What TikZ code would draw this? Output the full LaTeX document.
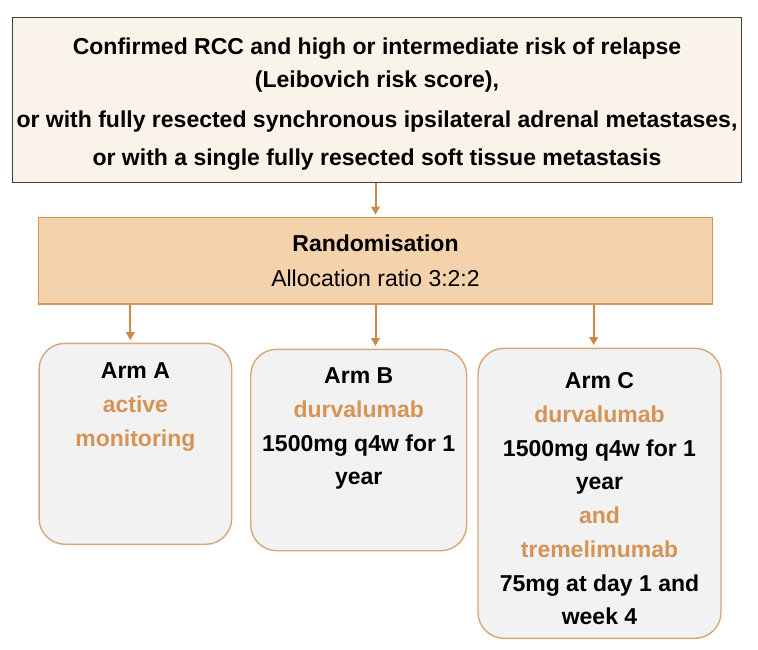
\documentclass[tikz,border=0pt]{standalone}
\usepackage{fontspec}
\setmainfont{Liberation Sans}
\usetikzlibrary{positioning,arrows.meta}

\definecolor{critfill}{RGB}{250,243,233}
\definecolor{critline}{RGB}{64,64,64}
\definecolor{randfill}{RGB}{244,210,172}
\definecolor{randline}{RGB}{217,150,88}
\definecolor{armfill}{RGB}{242,242,242}
\definecolor{armline}{RGB}{214,168,118}
\definecolor{drugtext}{RGB}{213,148,86}
\definecolor{flowcol}{RGB}{205,135,70}

\newcommand{\drug}[1]{\textcolor{drugtext}{#1}}

\tikzset{
  critbox/.style={draw=critline, fill=critfill, line width=1.4pt, inner sep=0pt,
    align=center, font=\bfseries\fontsize{23}{32.7}\selectfont},
  randbox/.style={draw=randline, fill=randfill, line width=1.3pt, inner sep=0pt,
    align=center, font=\fontsize{23}{34.4}\selectfont},
  armbox/.style={draw=armline, fill=armfill, line width=1.4pt, rounded corners=26pt, inner sep=0pt},
  armtext/.style={align=center, inner sep=0pt, font=\bfseries\fontsize{23}{33.7}\selectfont},
  flow/.style={draw=flowcol, line width=2pt, shorten >=2.5pt,
    -{Triangle[length=8pt,width=8.5pt]}, fill=flowcol}
}

\begin{document}
\begin{tikzpicture}[x=1pt, y=-1pt, node distance=20pt]
  \useasboundingbox (0,0) rectangle (758,650);

  % boxes
  \node[critbox, minimum width=729.4pt, minimum height=165pt] (crit) at (377,100.2)
    {\rule{0pt}{25pt}Confirmed RCC and high or intermediate risk of relapse\\
     (Leibovich risk score),\\[8pt]
     or with fully resected synchronous ipsilateral adrenal metastases,\\[5.3pt]
     or with a single fully resected soft tissue metastasis};
  \node[randbox, minimum width=674.4pt, minimum height=86.3pt] (rand) at (375.5,260.9)
    {\textbf{Randomisation}\\Allocation ratio 3:2:2};

  \node[armbox, minimum width=192.7pt, minimum height=201pt] (armA) at (135.4,443.8) {};
  \node[armbox, minimum width=216pt, minimum height=201.4pt] (armB) at (358.7,450) {};
  \node[armbox, minimum width=243pt, minimum height=290pt] (armC) at (599.5,493.3) {};

  % arm texts
  \node[armtext, below=20pt of armA.north] (txtA)
    {Arm A\\\drug{active}\\\drug{monitoring}};
  \node[armtext, below=19pt of armB.north] (txtB)
    {Arm B\\\drug{durvalumab}\\1500mg q4w for 1\\year};
  \node[armtext, below=25pt of armC.north] (txtC)
    {Arm C\\\drug{durvalumab}\\1500mg q4w for 1\\year\\\drug{and}\\\drug{tremelimumab}\\75mg at day 1 and\\week 4};

  % arrows
  \coordinate (colA) at (130.3,0);
  \coordinate (colC) at (593.7,0);
  \draw[flow] (crit.south -| rand.north) -- (rand.north);
  \draw[flow] (colA |- rand.south) -- (colA |- armA.north);
  \draw[flow] (rand.south) -- (rand.south |- armB.north);
  \draw[flow] (colC |- rand.south) -- (colC |- armC.north);
\end{tikzpicture}
\end{document}
